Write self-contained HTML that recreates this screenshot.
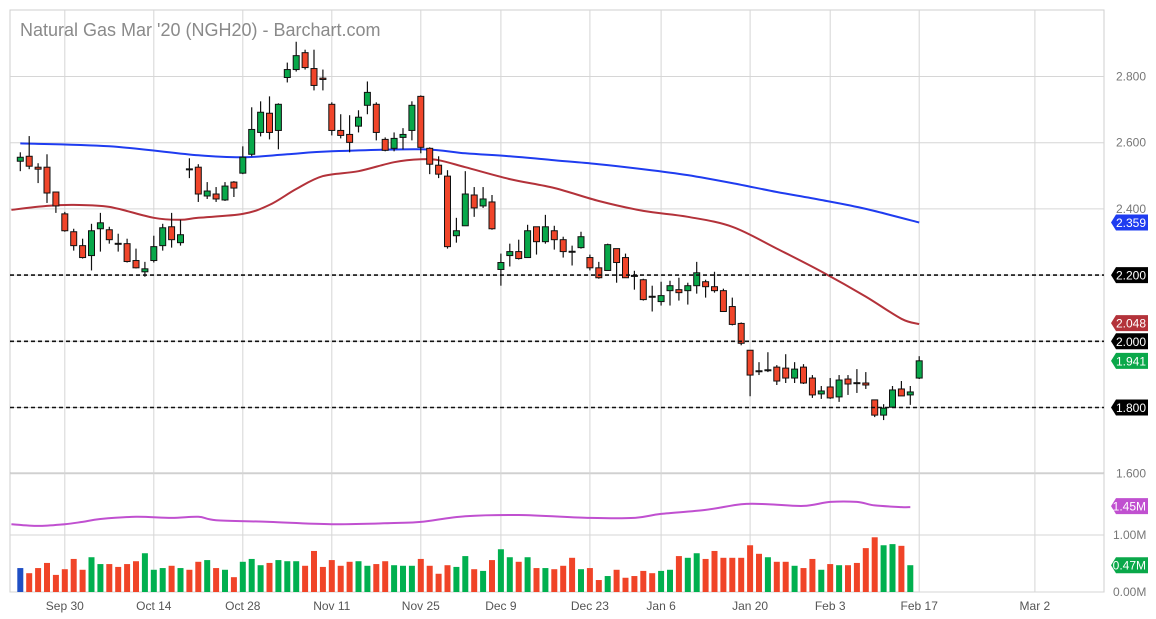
<!DOCTYPE html>
<html><head><meta charset="utf-8"><style>
html,body{margin:0;padding:0;background:#fff;}
svg{display:block;font-family:"Liberation Sans",sans-serif;}
</style></head><body>
<svg id="chart" width="1156" height="619" viewBox="0 0 1156 619" xmlns="http://www.w3.org/2000/svg">
<rect x="0" y="0" width="1156" height="619" fill="#fff"/>
<g id="grid"></g>
<g id="vol"></g>
<g id="ma"></g>
<g id="candles"></g>
<g id="levels"></g>
<g id="axis"></g>
<text x="20" y="36" font-size="18" fill="#8a8a8a">Natural Gas Mar '20 (NGH20) - Barchart.com</text>
</svg>
<script>
const opens=[2.544,2.559,2.526,2.526,2.451,2.385,2.331,2.289,2.259,2.340,2.337,2.296,2.295,2.244,2.210,2.244,2.289,2.346,2.298,2.521,2.526,2.439,2.445,2.427,2.481,2.508,2.565,2.631,2.689,2.637,2.797,2.821,2.872,2.824,2.795,2.716,2.637,2.625,2.650,2.713,2.716,2.610,2.583,2.616,2.637,2.740,2.583,2.532,2.499,2.319,2.349,2.442,2.409,2.421,2.217,2.259,2.271,2.253,2.346,2.301,2.334,2.307,2.272,2.283,2.253,2.222,2.214,2.280,2.253,2.199,2.186,2.136,2.120,2.153,2.156,2.153,2.168,2.180,2.165,2.153,2.105,2.054,1.973,1.911,1.912,1.922,1.919,1.889,1.922,1.889,1.841,1.862,1.832,1.886,1.875,1.874,1.823,1.777,1.801,1.856,1.838,1.889];
const highs=[2.571,2.620,2.538,2.565,2.451,2.391,2.340,2.310,2.355,2.388,2.346,2.325,2.310,2.280,2.240,2.319,2.355,2.388,2.367,2.553,2.535,2.481,2.466,2.481,2.484,2.589,2.707,2.725,2.740,2.719,2.842,2.905,2.881,2.881,2.821,2.722,2.686,2.683,2.698,2.785,2.722,2.616,2.631,2.644,2.725,2.743,2.586,2.559,2.517,2.373,2.514,2.466,2.466,2.442,2.265,2.295,2.307,2.352,2.346,2.382,2.349,2.316,2.289,2.331,2.262,2.240,2.295,2.280,2.265,2.213,2.189,2.168,2.180,2.183,2.192,2.177,2.240,2.186,2.210,2.159,2.132,2.057,1.973,1.937,1.967,1.928,1.961,1.937,1.931,1.898,1.865,1.889,1.898,1.898,1.916,1.907,1.823,1.810,1.865,1.880,1.865,1.955];
const lows=[2.514,2.520,2.478,2.418,2.388,2.331,2.274,2.250,2.214,2.271,2.295,2.271,2.238,2.220,2.195,2.238,2.274,2.283,2.289,2.493,2.421,2.430,2.421,2.424,2.436,2.505,2.559,2.619,2.610,2.580,2.782,2.815,2.821,2.758,2.758,2.622,2.613,2.571,2.631,2.686,2.607,2.574,2.574,2.580,2.607,2.568,2.505,2.493,2.280,2.298,2.349,2.376,2.403,2.337,2.168,2.226,2.247,2.253,2.262,2.295,2.277,2.253,2.229,2.280,2.214,2.189,2.214,2.177,2.192,2.156,2.123,2.090,2.108,2.108,2.123,2.111,2.144,2.132,2.147,2.090,2.048,1.988,1.834,1.898,1.907,1.868,1.874,1.874,1.871,1.829,1.826,1.826,1.817,1.838,1.844,1.856,1.771,1.762,1.801,1.835,1.808,1.886];
const closes=[2.556,2.529,2.520,2.448,2.409,2.334,2.289,2.253,2.334,2.358,2.307,2.294,2.241,2.222,2.219,2.286,2.343,2.307,2.322,2.519,2.445,2.454,2.430,2.469,2.463,2.556,2.640,2.692,2.631,2.716,2.821,2.863,2.827,2.773,2.791,2.637,2.622,2.601,2.677,2.752,2.631,2.577,2.613,2.625,2.713,2.586,2.535,2.505,2.286,2.334,2.445,2.403,2.430,2.340,2.238,2.271,2.250,2.334,2.301,2.346,2.307,2.271,2.270,2.316,2.222,2.192,2.292,2.238,2.192,2.197,2.126,2.134,2.138,2.168,2.147,2.168,2.207,2.165,2.153,2.090,2.051,1.994,1.898,1.909,1.914,1.880,1.889,1.916,1.874,1.838,1.850,1.829,1.883,1.871,1.873,1.868,1.777,1.798,1.853,1.835,1.847,1.941];
const volumes=[0.42,0.33,0.42,0.51,0.30,0.40,0.58,0.39,0.61,0.49,0.49,0.44,0.49,0.54,0.68,0.39,0.42,0.46,0.42,0.39,0.53,0.56,0.42,0.39,0.26,0.53,0.58,0.47,0.51,0.56,0.54,0.54,0.46,0.72,0.44,0.56,0.46,0.53,0.54,0.46,0.49,0.54,0.47,0.46,0.46,0.58,0.46,0.32,0.47,0.44,0.63,0.40,0.37,0.56,0.75,0.61,0.53,0.61,0.42,0.42,0.40,0.46,0.60,0.40,0.42,0.21,0.28,0.39,0.25,0.28,0.37,0.33,0.37,0.39,0.63,0.60,0.68,0.58,0.72,0.60,0.60,0.60,0.82,0.67,0.61,0.53,0.53,0.46,0.42,0.58,0.39,0.49,0.47,0.47,0.51,0.77,0.96,0.82,0.84,0.81,0.47];
const ma200Idx=[0,10,20,25,30,35,45,50,55,60,65,70,75,80,85,90,95,101];
const ma200Val=[2.598,2.589,2.562,2.556,2.565,2.574,2.580,2.568,2.559,2.547,2.535,2.520,2.502,2.478,2.451,2.427,2.400,2.359];
const ma50Idx=[-1,3,6,10,15,18,20,25,28,31,34,38,42,45,47,50,55,60,65,70,75,80,85,90,95,99,101];
const ma50Val=[2.397,2.409,2.412,2.406,2.373,2.367,2.373,2.385,2.412,2.460,2.499,2.514,2.541,2.550,2.547,2.526,2.490,2.463,2.424,2.394,2.376,2.346,2.280,2.211,2.135,2.068,2.052];
const volMaIdx=[-1,2,5,7,9,13,17,20,22,28,35,42,45,50,56,64,69,72,77,81,84,88,91,94,96,99,100];
const volMaVal=[1.19,1.16,1.19,1.23,1.28,1.32,1.30,1.32,1.26,1.23,1.19,1.21,1.23,1.33,1.35,1.30,1.30,1.37,1.44,1.54,1.54,1.51,1.58,1.58,1.52,1.49,1.49];
const priceTicks=[2.8,2.6,2.4,2.2,2.0,1.8,1.6];
const priceTickLabels=["2.800","2.600","2.400","2.200","2.000","1.800","1.600"];
const volTicks=[1.0,0.0];
const volTickLabels=["1.00M","0.00M"];
const dateIdx=[5,15,25,35,45,54,64,72,82,91,101,114];
const dateLabels=["Sep 30","Oct 14","Oct 28","Nov 11","Nov 25","Dec 9","Dec 23","Jan 6","Jan 20","Feb 3","Feb 17","Mar 2"];
const levelVals=[2.2,2.0,1.8];
const levelLabels=["2.200","2.000","1.800"];

const NS="http://www.w3.org/2000/svg";
const X0=10,X1=1104;
const xs=i=>20.3+i*8.9;
const ys=p=>76.5+(2.8-p)*331;
const yv=v=>592-v*57;
function mk(tag,attrs,parent){const e=document.createElementNS(NS,tag);for(const k in attrs)e.setAttribute(k,attrs[k]);parent.appendChild(e);return e;}
const G=id=>document.getElementById(id);

const grid=G('grid');
let fr=mk('rect',{x:X0,y:10,width:X1-X0,height:582,fill:'none',stroke:'#cfcfcf'},grid);


let sep=mk('line',{x1:X0,x2:X1,y1:473,y2:473,stroke:'#bdbdbd'},grid);


priceTicks.forEach((p,k)=>{
  const l=mk('line',{x1:X0,x2:X1,y1:ys(p),y2:ys(p),stroke:'#d6d6d6'},grid);
  
  
  const t=mk('text',{x:1116,y:ys(p)+4,'font-size':12,fill:'#777'},G('axis'));
  t.textContent=priceTickLabels[k];
  
  
});
volTicks.forEach((v,k)=>{
  const l=mk('line',{x1:X0,x2:X1,y1:yv(v),y2:yv(v),stroke:'#d6d6d6'},grid);
  
  
  const t=mk('text',{x:1113,y:yv(v)+4,'font-size':12,fill:'#777'},G('axis'));
  t.textContent=volTickLabels[k];
  
  
});
dateIdx.forEach((d,k)=>{
  const x=xs(d);
  const l=mk('line',{x1:x,x2:x,y1:10,y2:592,stroke:'#d6d6d6'},grid);
  
  
  const t=mk('text',{x:x,y:610,'font-size':12,fill:'#555','text-anchor':'middle'},G('axis'));
  t.textContent=dateLabels[k];
  
  
});

volumes.forEach((v,i)=>{
  const up=closes[i]>=opens[i];
  const col=i===0?'#1f4fc4':(up?'#00b04f':'#f04428');
  const r=mk('rect',{x:xs(i)-3,y:yv(v),width:6,height:592-yv(v),fill:col},G('vol'));
  
  
});

function line(idx,val,fy,col,name){
  const pts=idx.map((i,k)=>[xs(i),fy(val[k])]);
  let d='M'+pts[0][0].toFixed(1)+','+pts[0][1].toFixed(1);
  for(let k=0;k<pts.length-1;k++){
    const p0=pts[Math.max(k-1,0)],p1=pts[k],p2=pts[k+1],p3=pts[Math.min(k+2,pts.length-1)];
    const c1=[p1[0]+(p2[0]-p0[0])/6,p1[1]+(p2[1]-p0[1])/6];
    const c2=[p2[0]-(p3[0]-p1[0])/6,p2[1]-(p3[1]-p1[1])/6];
    d+=' C'+c1[0].toFixed(1)+','+c1[1].toFixed(1)+' '+c2[0].toFixed(1)+','+c2[1].toFixed(1)+' '+p2[0].toFixed(1)+','+p2[1].toFixed(1);
  }
  const p=mk('path',{d:d,fill:'none',stroke:col,'stroke-width':2,'stroke-linejoin':'round'},G('ma'));
  
  
}
line(ma200Idx,ma200Val,ys,'#1f3cf0','ma-200-line');
line(ma50Idx,ma50Val,ys,'#b3323a','ma-50-line');
line(volMaIdx,volMaVal,yv,'#c050d0','volume-ma-line');

opens.forEach((o,i)=>{
  const c=closes[i],x=xs(i);
  const up=c>=o;
  const g=mk('g',{},G('candles'));
  
  
  mk('line',{x1:x,x2:x,y1:ys(highs[i]),y2:ys(lows[i]),stroke:'#111','stroke-width':1.2},g);
  const top=ys(Math.max(o,c)),bot=ys(Math.min(o,c));
  const h=Math.max(bot-top,1);
  mk('rect',{x:x-3,y:top,width:6,height:h,fill:up?'#08a84a':'#f0452a',stroke:'#111','stroke-width':1},g);
});

function tag(y,txt,col,name,parent){
  const g=mk('g',{},parent);
  
  
  mk('path',{d:`M1111,${y} L1116,${y-8} L1148,${y-8} L1148,${y+8} L1116,${y+8} Z`,fill:col},g);
  const t=mk('text',{x:1146,y:y+4.5,'font-size':12,fill:'#fff','text-anchor':'end'},g);
  t.textContent=txt;
}
levelVals.forEach((v,k)=>{
  const l=mk('line',{x1:X0,x2:X1,y1:ys(v),y2:ys(v),stroke:'#111','stroke-width':1.6,'stroke-dasharray':'4,3'},G('levels'));
  
  
  tag(ys(v),levelLabels[k],'#000','level-tag',G('axis'));
});
const last=closes.length-1;
tag(ys(ma200Val[ma200Val.length-1]),ma200Val[ma200Val.length-1].toFixed(3),'#1f3cf0','ma-200-tag',G('axis'));
tag(ys(ma50Val[ma50Val.length-1])-1,'2.048','#b3323a','ma-50-tag',G('axis'));
tag(ys(closes[last]),closes[last].toFixed(3),'#0aa84a','last-price-tag',G('axis'));
tag(yv(volMaVal[volMaVal.length-1])-1,'1.45M','#c050d0','volume-ma-tag',G('axis'));
tag(yv(volumes[volumes.length-1]),volumes[volumes.length-1].toFixed(2)+'M','#0aa84a','last-volume-tag',G('axis'));
</script>
</body></html>
